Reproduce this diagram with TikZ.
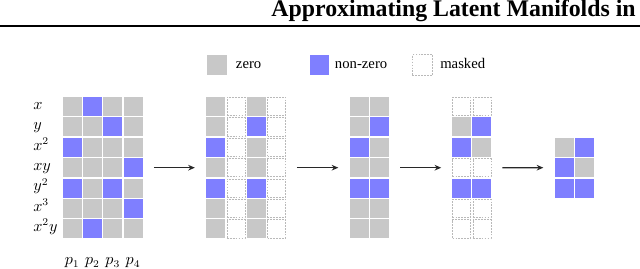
\documentclass[tikz,border=0pt]{standalone}
\usepackage{fontspec}
\setmainfont{Liberation Serif}
\usetikzlibrary{arrows.meta}
\definecolor{zgray}{RGB}{200,200,200}
\definecolor{nzblue}{RGB}{127,127,255}
\definecolor{mborder}{RGB}{185,185,185}
\definecolor{arrcol}{RGB}{40,40,40}
\tikzset{
  cellg/.style={rectangle, fill=zgray, draw=none, minimum size=12.9pt, inner sep=0pt},
  cellb/.style={rectangle, fill=nzblue, draw=none, minimum size=12.9pt, inner sep=0pt},
  cellm/.style={rectangle, fill=white, draw=mborder, line width=0.5pt, dash pattern=on 1.2pt off 0.8pt, minimum size=12.3pt, inner sep=0pt},
  lab/.style={anchor=base west, inner sep=0pt, font=\fontsize{10.5}{12}\selectfont},
  plab/.style={anchor=base, inner sep=0pt, font=\fontsize{10.5}{12}\selectfont},
  legtext/.style={anchor=base west, inner sep=0pt, font=\fontsize{10}{12}\selectfont},
  arr/.style={draw=arrcol, line width=0.9pt, -{Stealth[length=4.5pt,width=3.8pt]}},
}
\newcommand{\drawmat}[4]{%
  \foreach \rowspec [count=\r] in {#4} {
    \foreach \t [count=\c] in \rowspec {
      \node[cell\t] (#1-\r-\c) at ({#2+(\c-0.5)*20.3},{#3+(\r-0.5)*20.4}) {};
    }
  }
}
\begin{document}
\begin{tikzpicture}[x=0.68pt,y=-0.68pt]
\useasboundingbox[fill=white] (0,0) rectangle (640,268);
% header
\node[anchor=base east, inner sep=0pt, font=\fontsize{16.2}{18}\selectfont\bfseries] (title) at (636,16.8) {Approximating Latent Manifolds in};
\coordinate (hl) at (0,25.8);
\coordinate (hr) at (640,25.8);
\draw[line width=1.6pt] (hl) -- (hr);
% legend
\node[cellg, minimum size=13.8pt] (legz) at (217,65) {};
\node[legtext] (legzt) at (235.7,68.3) {zero};
\node[cellb, minimum size=13.3pt] (legb) at (319.7,65) {};
\node[legtext] (legbt) at (334.7,68.3) {non-zero};
\node[cellm, minimum size=13.8pt] (legm) at (422.5,65) {};
\node[legtext] (legmt) at (440,68.3) {masked};
% matrices
\drawmat{A}{62}{96.3}{{g,b,g,g},{g,g,b,g},{b,g,g,g},{g,g,g,b},{b,g,b,g},{g,g,g,b},{g,b,g,g}}
\drawmat{B}{205.5}{96.3}{{g,m,g,m},{g,m,b,m},{b,m,g,m},{g,m,g,m},{b,m,b,m},{g,m,g,m},{g,m,g,m}}
\drawmat{C}{349}{96.3}{{g,g},{g,b},{b,g},{g,g},{b,b},{g,g},{g,g}}
\drawmat{D}{451.5}{96.3}{{m,m},{g,b},{b,g},{m,m},{b,b},{m,m},{m,m}}
\drawmat{E}{554}{137.1}{{g,b},{b,g},{b,b}}
% row labels
\foreach \lbl [count=\r] in {x,y,x^2,xy,y^2,x^3,x^2y} {
  \node[lab] (row-\r) at (33,{96.3+(\r-0.5)*20.4+2.8}) {$\lbl$};
}
% column labels
\foreach \c in {1,2,3,4} {
  \node[plab] (col-\c) at ({62+(\c-0.5)*20.3},264.6) {$p_{\c}$};
}
% arrows
\draw[arr] ([xshift=7.5pt]A-4-4.east) -- ([xshift=-7.5pt]B-4-1.west);
\draw[arr] ([xshift=7.5pt]B-4-4.east) -- ([xshift=-7.5pt]C-4-1.west);
\draw[arr] ([xshift=7.5pt]C-4-2.east) -- ([xshift=-7.5pt]D-4-1.west);
\draw[arr] ([xshift=7.5pt]D-4-2.east) -- ([xshift=-7.5pt]E-2-1.west);
\end{tikzpicture}
\end{document}
